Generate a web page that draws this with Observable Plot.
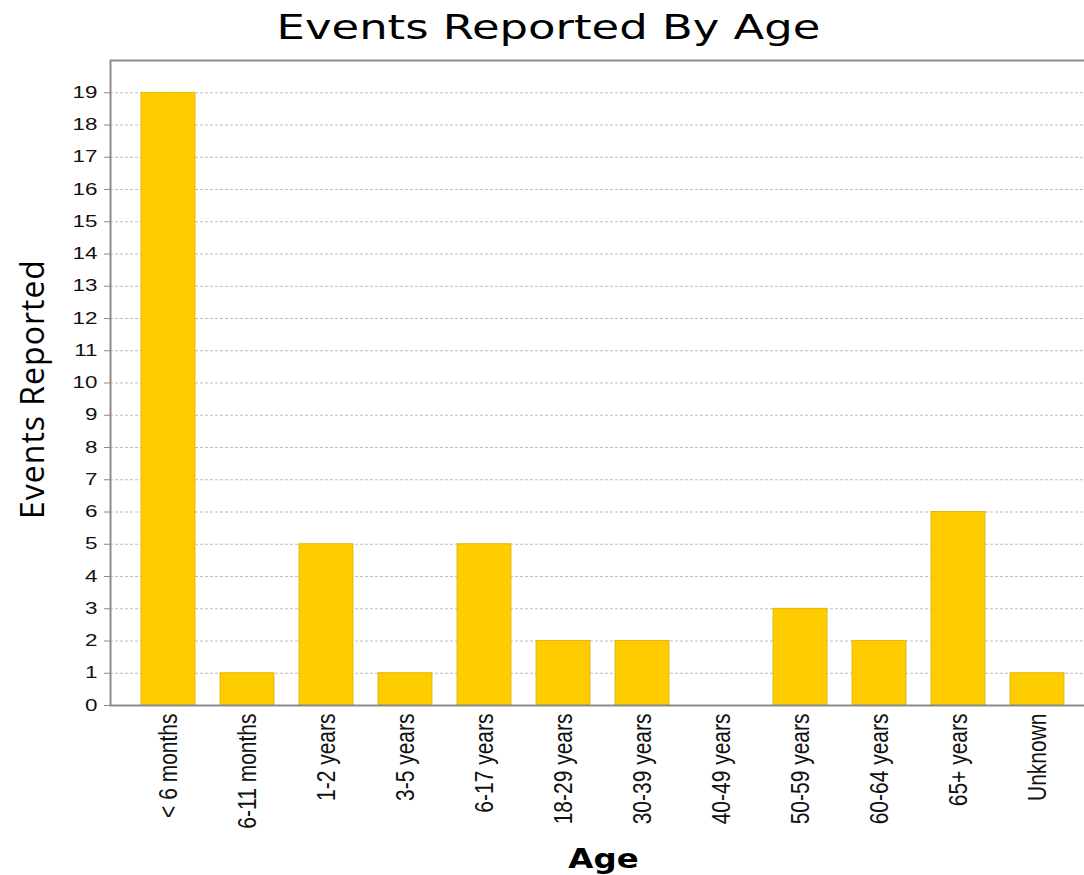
<!DOCTYPE html>
<html>
<head>
<meta charset="utf-8">
<script src="https://cdn.jsdelivr.net/npm/d3@7"></script>
<script src="https://cdn.jsdelivr.net/npm/@observablehq/plot@0.6"></script>
<style>
  html, body { margin: 0; padding: 0; background: #fff; }
  #wrap { position: relative; width: 1084px; height: 875px; overflow: hidden; background: #fff; }
  #wrap svg { position: absolute; left: 0; top: 0; }
  .title { position: absolute; left: 0; top: 11px; width: 1097px; text-align: center; white-space: nowrap;
    font-family: "DejaVu Sans", sans-serif; font-size: 33px; line-height: 1; color: #000;
    transform: scaleX(1.36); transform-origin: 548.5px 50%; }
  .xlabel { position: absolute; left: 0; top: 845px; width: 1207px; text-align: center; white-space: nowrap;
    font-family: "DejaVu Sans", sans-serif; font-weight: bold; font-size: 27px; line-height: 1; color: #000;
    transform: scaleX(1.2); transform-origin: 603.5px 50%; }
  .ylabel { position: absolute; left: 31.5px; top: 388.5px; white-space: nowrap;
    font-family: "Open Sans", "Noto Sans", sans-serif; font-size: 32px; letter-spacing: 1px; line-height: 1; color: #000;
    transform: translate(-50%, -50%) rotate(-90deg); }
</style>
</head>
<body>
<div id="wrap"></div>
<script>
const categories = ["< 6 months", "6-11 months", "1-2 years", "3-5 years", "6-17 years", "18-29 years",
  "30-39 years", "40-49 years", "50-59 years", "60-64 years", "65+ years", "Unknown"];
const counts = [19, 1, 5, 1, 5, 2, 2, 0, 3, 2, 6, 1];
const yTicks = [0, 1, 2, 3, 4, 5, 6, 7, 8, 9, 10, 11, 12, 13, 14, 15, 16, 17, 18, 19];
const gridValues = [1, 2, 3, 4, 5, 6, 7, 8, 9, 10, 11, 12, 13, 14, 15, 16, 17, 18, 19];
const titleText = "Events Reported By Age";
const xLabelText = "Age";
const yLabelText = "Events Reported";

const data = categories.map((c, i) => ({age: c, count: counts[i]}));

const chart = Plot.plot({
  width: 1084,
  height: 875,
  marginTop: 60,
  marginBottom: 170,
  marginLeft: 110,
  marginRight: -3,
  style: {background: "#fff", color: "#111", overflow: "hidden"},
  x: {type: "band", domain: categories, range: [110, 1084], paddingInner: 0.317, paddingOuter: 0.315, align: 0.6, label: null},
  y: {domain: [0, 20], label: null},
  marks: [
    Plot.ruleY(gridValues, {stroke: "#bdbdbd", strokeDasharray: "3,2"}),
    Plot.barY(data, {x: "age", y: "count", fill: "#FFCC00", stroke: "#dcb000", strokeWidth: 0.8}),
    Plot.frame({stroke: "#8c8c8c", strokeWidth: 2}),
    Plot.axisY({ticks: yTicks, tickSize: 6, tickPadding: 7, stroke: "#888", color: "#111",
      fontSize: 16, fontFamily: "Liberation Sans, Arial, sans-serif", label: null}),
    Plot.axisX({tickSize: 0, tickPadding: 8, tickRotate: -90, color: "#111",
      fontSize: 21, fontFamily: "Liberation Sans, Arial, sans-serif", label: null})
  ]
});

// widen the glyphs like the reference picture
chart.querySelectorAll('[aria-label="y-axis tick label"] text').forEach(t => {
  const tr = t.getAttribute("transform") || "";
  t.setAttribute("transform", tr + " scale(1.4,1)");
});
chart.querySelectorAll('[aria-label="x-axis tick label"] text').forEach(t => {
  const tr = t.getAttribute("transform") || "";
  t.setAttribute("transform", tr + " scale(1,1.2)");
});

const wrap = document.getElementById("wrap");
wrap.appendChild(chart);

const title = document.createElement("div");
title.className = "title";
title.textContent = titleText;
wrap.appendChild(title);

const xl = document.createElement("div");
xl.className = "xlabel";
xl.textContent = xLabelText;
wrap.appendChild(xl);

const yl = document.createElement("div");
yl.className = "ylabel";
yl.textContent = yLabelText;
wrap.appendChild(yl);
</script>
</body>
</html>
